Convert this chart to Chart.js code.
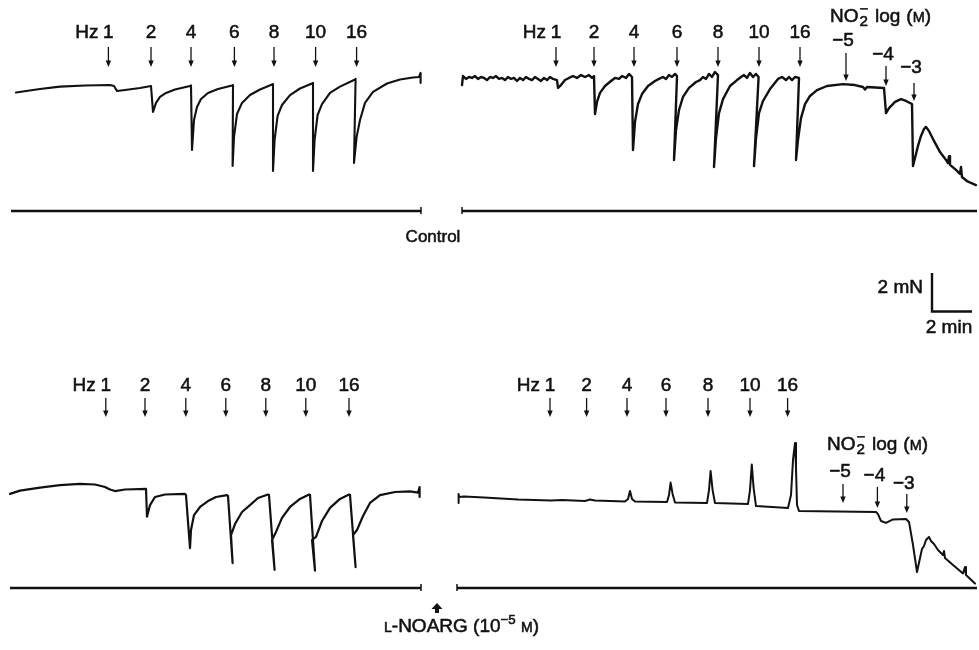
<!DOCTYPE html>
<html lang="en">
<head>
  <meta charset="UTF-8">
  <title>Nitrergic relaxation – field stimulation and nitrite</title>
  <script src="https://cdn.jsdelivr.net/npm/chart.js"></script>
  <style>
    html, body { margin: 0; padding: 0; background: #fff; }
    #wrap { position: relative; width: 979px; height: 650px; }
  </style>
</head>
<body>
  <div id="wrap"><canvas id="trace"></canvas></div>
  <script>
    // recorder calibration: 2 mN = 38.4 px, 2 min = 40 px
    const W = 979, H = 650;
    const PX_PER_MIN = 20, PX_PER_MN = 19.2;

    const hzLabels = ['1', '2', '4', '6', '8', '10', '16'];
    const no2Labels = ['\u22125', '\u22124', '\u22123'];

    // Control, field stimulation (min from start of record / tension in mN above time bar)
    const ctrlStimTime = [0.25, 1.45, 2.45, 3.70, 4.95, 5.15, 5.30, 5.70, 6.45, 7.00, 7.10, 7.25, 7.45, 7.75, 8.20, 8.95,
      9.00, 9.05, 9.15, 9.30, 9.50, 9.85, 10.35, 11.05, 11.10, 11.08, 11.15, 11.30, 11.55, 11.95, 12.45, 13.05,
      13.10, 13.10, 13.18, 13.33, 13.55, 13.95, 14.45, 15.05, 15.10, 15.10, 15.18, 15.33, 15.55, 15.95, 16.45, 17.15,
      17.23, 17.15, 17.28, 17.45, 17.70, 18.10, 18.80, 19.45, 20.10, 20.40, 20.48, 20.48];
    const ctrlStimTension = [6.17, 6.35, 6.48, 6.54, 6.56, 6.51, 6.25, 6.30, 6.41, 6.51, 5.16, 5.63, 5.94, 6.15, 6.33, 6.51,
      6.54, 3.18, 4.74, 5.42, 5.83, 6.15, 6.35, 6.54, 6.56, 2.34, 3.85, 5.05, 5.63, 6.04, 6.33, 6.59,
      6.61, 2.08, 3.70, 4.95, 5.52, 6.04, 6.38, 6.64, 6.67, 2.08, 3.70, 5.00, 5.57, 6.15, 6.48, 6.82,
      6.88, 2.50, 3.85, 4.74, 5.63, 6.20, 6.64, 6.85, 6.95, 6.98, 7.19, 6.67];

    // Control, field stimulation then NO2- (noisy record)
    const ctrlNitTime = [0.00, 0.05, 0.20, 0.35, 0.50, 0.65, 0.80, 0.95, 1.10, 1.25, 1.40, 1.55, 1.70, 1.85, 2.00, 2.15,
      2.30, 2.45, 2.60, 2.75, 2.90, 3.05, 3.20, 3.35, 3.50, 3.65, 3.80, 3.95, 4.10, 4.25, 4.40, 4.55,
      4.75, 4.80, 4.95, 5.15, 5.35, 5.55, 5.75, 5.95, 6.15, 6.35, 6.50, 6.60, 6.65, 6.75, 6.90, 7.15,
      7.45, 7.65, 7.85, 8.00, 8.20, 8.35, 8.50, 8.55, 8.65, 8.80, 9.00, 9.30, 9.65, 9.85, 10.05, 10.20,
      10.35, 10.50, 10.65, 10.75, 10.60, 10.70, 10.85, 11.05, 11.35, 11.70, 11.90, 12.05, 12.20, 12.35, 12.50, 12.65,
      12.80, 12.60, 12.70, 12.85, 13.05, 13.40, 13.75, 13.95, 14.10, 14.25, 14.40, 14.55, 14.70, 14.83, 14.60, 14.70,
      14.85, 15.05, 15.40, 15.80, 16.00, 16.20, 16.35, 16.50, 16.65, 16.85, 16.70, 16.80, 16.95, 17.15, 17.40, 17.75,
      18.25, 19.05, 19.65, 20.05, 20.15, 20.25, 21.10, 21.20, 21.35, 21.65, 21.95, 22.20, 22.50, 22.55, 22.65, 22.80,
      22.95, 23.10, 23.20, 23.35, 23.60, 23.90, 24.20, 24.30, 24.35, 24.40, 24.70, 24.90, 24.95, 25.00, 25.25, 25.45, 25.70];
    const ctrlNitTension = [6.56, 7.03, 6.88, 6.98, 6.93, 7.03, 6.88, 6.98, 6.93, 6.82, 6.98, 6.93, 7.03, 6.88, 6.93, 6.82,
      6.98, 6.88, 6.93, 6.77, 6.93, 6.82, 6.98, 6.88, 6.82, 6.98, 6.88, 6.77, 6.93, 6.82, 6.98, 6.88,
      6.82, 6.41, 6.56, 6.82, 6.93, 7.03, 6.93, 7.08, 6.98, 7.08, 6.93, 7.03, 5.05, 5.68, 6.15, 6.51,
      6.77, 6.93, 6.88, 7.03, 6.93, 7.14, 6.98, 3.18, 4.64, 5.57, 6.09, 6.51, 6.77, 6.88, 6.98, 6.88,
      7.08, 6.98, 7.14, 7.03, 2.66, 4.22, 5.26, 5.94, 6.41, 6.72, 6.82, 6.98, 6.88, 7.14, 6.98, 7.24,
      7.08, 2.29, 3.80, 5.10, 5.83, 6.51, 6.82, 6.98, 7.08, 6.93, 7.19, 6.98, 7.14, 6.98, 2.34, 3.80,
      5.10, 5.73, 6.35, 6.88, 6.98, 6.82, 6.98, 6.82, 6.98, 6.93, 2.66, 3.70, 4.84, 5.57, 5.99, 6.30,
      6.51, 6.61, 6.56, 6.46, 6.33, 6.46, 6.41, 5.10, 5.36, 5.68, 5.83, 5.73, 5.57, 2.34, 2.76, 3.39,
      3.91, 4.27, 4.38, 4.17, 3.65, 3.07, 2.66, 2.50, 2.86, 2.40, 2.14, 1.93, 2.29, 1.77, 1.56, 1.46, 1.35];

    // L-NOARG, field stimulation
    const noargStimTime = [0.00, 0.50, 1.50, 2.50, 3.50, 4.25, 4.75, 5.00, 5.25, 5.75, 6.80, 6.85, 7.00, 7.25, 7.75, 8.75,
      8.80, 9.00, 9.05, 9.20, 9.50, 9.90, 10.30, 10.85, 10.90, 11.13, 11.05, 11.25, 11.60, 12.00, 12.40, 12.90,
      12.95, 13.23, 13.10, 13.30, 13.60, 14.00, 14.50, 14.95, 15.00, 15.25, 15.10, 15.30, 15.60, 16.00, 16.50, 16.95,
      17.00, 17.28, 17.15, 17.35, 17.65, 18.00, 18.50, 19.25, 20.00, 20.40, 20.48, 20.48];
    const noargStimTension = [4.90, 5.07, 5.23, 5.36, 5.42, 5.39, 5.26, 5.13, 5.05, 5.13, 5.16, 3.71, 4.32, 4.74, 4.87, 4.90,
      4.84, 2.08, 3.02, 3.80, 4.22, 4.53, 4.74, 4.84, 4.79, 1.30, 2.76, 3.33, 3.96, 4.32, 4.69, 4.87,
      4.84, 0.94, 2.50, 2.92, 3.65, 4.22, 4.64, 4.87, 4.84, 0.91, 2.50, 2.66, 3.49, 4.17, 4.64, 4.87,
      4.84, 1.09, 2.76, 3.02, 3.75, 4.43, 4.84, 5.00, 5.03, 4.97, 5.26, 4.74];

    // L-NOARG, field stimulation then NO2-
    const noargNitTime = [0.08, 0.08, 0.10, 0.35, 1.35, 3.05, 4.70, 5.25, 6.40, 6.65, 6.90, 8.40, 8.55, 8.65, 8.75, 8.90,
      10.50, 10.60, 10.68, 10.78, 10.90, 12.50, 12.60, 12.68, 12.78, 12.90, 14.55, 14.65, 14.74, 14.83, 14.95, 16.55,
      16.70, 16.80, 16.90, 16.95, 17.00, 17.10, 20.95, 21.05, 21.20, 21.45, 21.80, 22.45, 22.60, 22.80, 23.00, 23.15,
      23.25, 23.35, 23.45, 23.60, 23.70, 23.85, 24.05, 24.30, 24.35, 24.40, 24.80, 25.30, 25.40, 25.45, 25.90];
    const noargNitTension = [4.43, 4.90, 4.74, 4.77, 4.71, 4.61, 4.56, 4.58, 4.53, 4.61, 4.56, 4.51, 4.64, 5.05, 4.64, 4.51,
      4.48, 4.84, 5.49, 4.90, 4.45, 4.43, 5.10, 6.09, 5.10, 4.43, 4.38, 5.10, 6.43, 5.21, 4.27, 4.17,
      4.84, 6.67, 7.55, 6.25, 4.32, 4.01, 3.96, 3.85, 3.49, 3.39, 3.57, 3.59, 3.44, 2.24, 0.83, 1.56,
      2.03, 2.19, 2.50, 2.66, 2.45, 2.29, 1.98, 1.72, 1.93, 1.56, 1.20, 0.76, 1.09, 0.68, 0.23];

    // stimulus times (min from start of each record)
    const ctrlStimHz = [4.87, 7.00, 9.00, 11.17, 13.15, 15.23, 17.28];
    const ctrlNitHz = [4.70, 6.60, 8.60, 10.75, 12.80, 14.85, 16.90];
    const ctrlNitDose = [19.20, 21.20, 22.60];
    const noargStimHz = [4.79, 6.75, 8.79, 10.79, 12.79, 14.79, 16.95];
    const noargNitHz = [4.65, 6.48, 8.50, 10.45, 12.55, 14.65, 16.53];
    const noargNitDose = [19.30, 21.02, 22.49];

    // where each record sits on the page (px)
    const panels = [
      { time: ctrlStimTime, tension: ctrlStimTension, left: 11, right: 421, base: 211, tick: 'right', lw: 2.1,
        hz: ctrlStimHz, hzY: 33, arrowTop: 47, arrowBottom: 67 },
      { time: ctrlNitTime, tension: ctrlNitTension, left: 462, right: 977, base: 211, tick: 'left', lw: 2.4,
        hz: ctrlNitHz, hzY: 33, arrowTop: 47, arrowBottom: 67,
        dose: { t: ctrlNitDose, titleX: 830, titleY: 15, labelY: [41, 55, 68], top: [53, 66, 83], bottom: [81, 86, 101] } },
      { time: noargStimTime, tension: noargStimTension, left: 10, right: 421, base: 588, tick: 'right', lw: 2.2,
        hz: noargStimHz, hzY: 386, arrowTop: 398, arrowBottom: 417 },
      { time: noargNitTime, tension: noargNitTension, left: 457, right: 977, base: 588, tick: 'left', lw: 2.0,
        hz: noargNitHz, hzY: 386, arrowTop: 398, arrowBottom: 417,
        dose: { t: noargNitDose, titleX: 827, titleY: 443, labelY: [472, 476, 484], top: [484, 487, 494], bottom: [503, 508, 513] } }
    ];

    function originOf(p) {
      return { t0: p.left / PX_PER_MIN, v0: (H - p.base) / PX_PER_MN };
    }

    const datasets = panels.map(p => {
      const o = originOf(p);
      return {
        data: p.time.map((t, i) => ({ x: o.t0 + t, y: o.v0 + p.tension[i] })),
        borderColor: '#111',
        borderWidth: p.lw,
        pointRadius: 0,
        tension: 0,
        borderJoinStyle: 'round',
        borderCapStyle: 'round',
        fill: false
      };
    });

    const FONT = '"Liberation Sans", Arial, sans-serif';
    const INK = 0.55; // slight stroke so the lettering prints as heavy as the traces

    // draws a run of text pieces (sub/superscripts, small caps)
    function drawRuns(ctx, x, y, runs, size, align) {
      let total = 0;
      runs.forEach(r => {
        ctx.font = (size * (r.s || 1)) + 'px ' + FONT;
        r.w = ctx.measureText(r.t).width + (r.gap || 0);
        if (!r.stack) total += r.w;
      });
      let cx = align === 'center' ? x - total / 2 : align === 'right' ? x - total : x;
      ctx.textAlign = 'left';
      ctx.textBaseline = 'alphabetic';
      ctx.lineWidth = INK;
      runs.forEach(r => {
        ctx.font = (size * (r.s || 1)) + 'px ' + FONT;
        ctx.fillText(r.t, cx, y + (r.dy || 0));
        ctx.strokeText(r.t, cx, y + (r.dy || 0));
        if (!r.stack) cx += r.w;
      });
    }

    function downArrow(ctx, x, y0, y1) {
      ctx.lineWidth = 1.3;
      ctx.beginPath();
      ctx.moveTo(x, y0);
      ctx.lineTo(x, y1 - 5);
      ctx.stroke();
      ctx.beginPath();
      ctx.moveTo(x - 2.7, y1 - 6.5);
      ctx.lineTo(x + 2.7, y1 - 6.5);
      ctx.lineTo(x, y1);
      ctx.closePath();
      ctx.fill();
    }

    function label(ctx, text, x, y, size, align) {
      ctx.font = size + 'px ' + FONT;
      ctx.textAlign = align || 'center';
      ctx.textBaseline = 'middle';
      ctx.lineWidth = INK;
      ctx.fillText(text, x, y);
      ctx.strokeText(text, x, y);
    }

    const recordMarks = {
      id: 'recordMarks',
      afterDatasetsDraw(chart) {
        const ctx = chart.ctx;
        const xs = chart.scales.x, ys = chart.scales.y;
        ctx.save();
        ctx.strokeStyle = '#111';
        ctx.fillStyle = '#111';

        panels.forEach(p => {
          const o = originOf(p);
          // time bar under each record
          const yb = ys.getPixelForValue(o.v0);
          ctx.lineWidth = 2.3;
          ctx.beginPath();
          ctx.moveTo(p.left, yb);
          ctx.lineTo(p.right, yb);
          ctx.stroke();
          const tx = p.tick === 'right' ? p.right : p.left;
          ctx.lineWidth = 1.5;
          ctx.beginPath();
          ctx.moveTo(tx, yb - 4);
          ctx.lineTo(tx, yb + 3);
          ctx.stroke();

          // stimulation frequencies
          p.hz.forEach((t, i) => {
            const x = xs.getPixelForValue(o.t0 + t);
            label(ctx, hzLabels[i], x, p.hzY, 19);
            downArrow(ctx, x, p.arrowTop, p.arrowBottom);
          });
          const x1 = xs.getPixelForValue(o.t0 + p.hz[0]);
          label(ctx, 'Hz', x1 - 10, p.hzY, 19, 'right');

          // nitrite additions
          if (p.dose) {
            const d = p.dose;
            drawRuns(ctx, d.titleX, d.titleY + 7, [
              { t: 'NO', gap: 1 }, { t: '\u2212', s: 0.8, dy: -8, stack: true }, { t: '2', s: 0.8, dy: 4, gap: 7 },
              { t: 'log', gap: 6 }, { t: '(' }, { t: 'M', s: 0.76 }, { t: ')' }
            ], 19, 'left');
            d.t.forEach((t, i) => {
              const x = xs.getPixelForValue(o.t0 + t);
              label(ctx, no2Labels[i], x - 3, d.labelY[i], 19);
              downArrow(ctx, x, d.top[i], d.bottom[i]);
            });
          }
        });

        // calibration bar
        const cx = 932, cy = 311.5;
        const dx = xs.getPixelForValue(2) - xs.getPixelForValue(0);
        const dy = ys.getPixelForValue(0) - ys.getPixelForValue(2);
        ctx.lineWidth = 2.4;
        ctx.beginPath();
        ctx.moveTo(cx, cy - dy);
        ctx.lineTo(cx, cy);
        ctx.lineTo(cx + dx, cy);
        ctx.stroke();
        label(ctx, '2 mN', cx - 9, 288, 19, 'right');
        label(ctx, '2 min', cx + 17, 328, 19);

        label(ctx, 'Control', 433, 237, 17);

        // L-NOARG addition
        ctx.beginPath();
        ctx.moveTo(437, 603);
        ctx.lineTo(442.5, 609);
        ctx.lineTo(439, 609);
        ctx.lineTo(439, 613);
        ctx.lineTo(435, 613);
        ctx.lineTo(435, 609);
        ctx.lineTo(431.5, 609);
        ctx.closePath();
        ctx.fill();
        drawRuns(ctx, 384, 632, [
          { t: 'L', s: 0.74 }, { t: '-NOARG (10' }, { t: '\u22125', s: 0.7, dy: -8 }, { t: ' ' },
          { t: 'M', s: 0.74 }, { t: ')' }
        ], 19, 'left');

        ctx.restore();
      }
    };

    new Chart(document.getElementById('trace'), {
      type: 'line',
      data: { datasets },
      options: {
        responsive: true,
        maintainAspectRatio: false,
        animation: false,
        layout: { padding: 0 },
        scales: {
          x: { type: 'linear', display: false, min: 0, max: W / PX_PER_MIN },
          y: { type: 'linear', display: false, min: 0, max: H / PX_PER_MN }
        },
        plugins: { legend: { display: false }, tooltip: { enabled: false } }
      },
      plugins: [recordMarks]
    });
  </script>
</body>
</html>
